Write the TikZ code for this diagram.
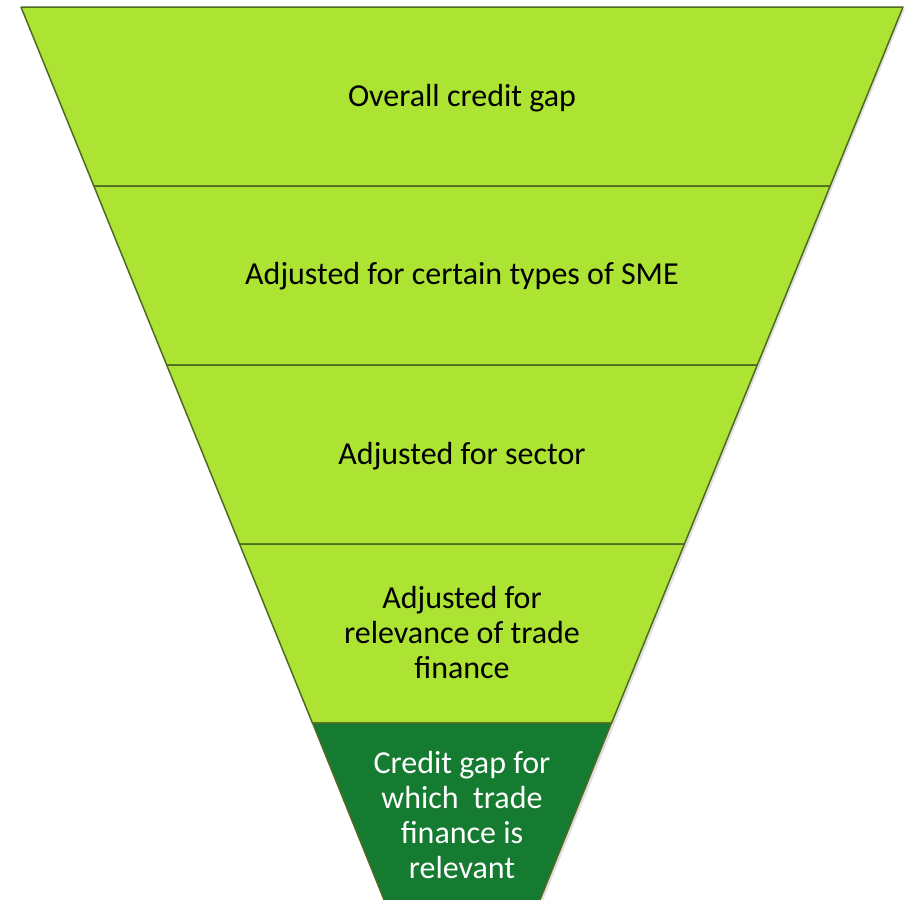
\documentclass[tikz,border=0pt]{standalone}
\usepackage{fontspec}
\setmainfont{Carlito}
\usepackage{tikz}
\usetikzlibrary{positioning}
\definecolor{limegreen}{HTML}{ADE434}
\definecolor{deepgreen}{HTML}{157B31}
\definecolor{bandedge}{HTML}{4F6B22}

\begin{document}
\begin{tikzpicture}[x=1pt, y=-1pt,
    band/.style={fill=limegreen, draw=bandedge, line width=1.5pt, line join=round},
    lastband/.style={fill=deepgreen, draw=bandedge, line width=1.5pt, line join=round},
    stage/.style={font=\fontsize{32}{35}\selectfont, align=center, inner sep=0pt}]
    \useasboundingbox (0,0) rectangle (906,900);

    % soft shadow behind the funnel
    \fill [black!12] (23,9) -- (905,9) -- (542,903) -- (387,903) -- cycle;

    % four light bands, then the dark tip
    \foreach \i in {0,...,3} {
        \pgfmathsetmacro{\yt}{7+179*\i}
        \pgfmathsetmacro{\yb}{7+179*(\i+1)}
        \pgfmathsetmacro{\lt}{21+0.407*(\yt-7)}
        \pgfmathsetmacro{\lb}{21+0.407*(\yb-7)}
        \pgfmathsetmacro{\rt}{903-0.407*(\yt-7)}
        \pgfmathsetmacro{\rb}{903-0.407*(\yb-7)}
        \draw [band] (\lt,\yt) -- (\rt,\yt) -- (\rb,\yb) -- (\lb,\yb) -- cycle;
    }
    \draw [lastband] (312.6,723) -- (611.4,723) -- (539.5,901) -- (384.5,901) -- cycle;

    \node [stage] (gap) at (462,98) {Overall credit gap};
    \node [stage] (smetype) at (462,276) {Adjusted for certain types of SME};
    \node [stage] (sector) at (462,456) {Adjusted for sector};
    \node [stage] (relevance) at (462,633) {Adjusted for\\relevance of trade\\finance};
    \node [stage, text=white] (tfgap) at (462,815) {Credit gap for\\which\ \ trade\\finance is\\relevant};
\end{tikzpicture}
\end{document}
